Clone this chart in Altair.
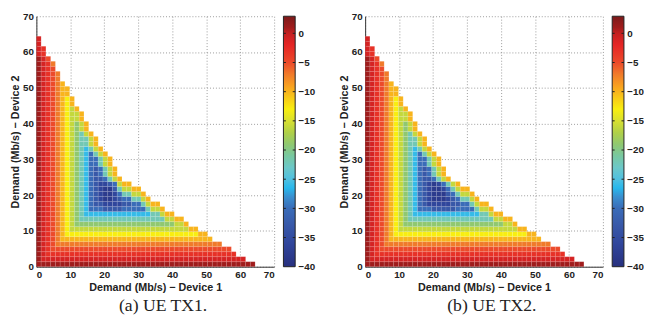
import altair as alt
import pandas as pd

# ---------------- data ----------------
STEP = 1.4  # Mb/s per heat-map cell (46 cells cover 0..64.4)

# level code -> value (dB)
LEVEL_CODES = "0123456789abcde"
LEVEL_VALUES = [1.0, -1, -3, -5, -7, -10, -13, -16, -19, -22, -26, -30, -33, -36, -38]

# one string per row of cells, bottom row (Device 2 = 0) first, left to right
ROWS_A = [
    "0000000000000000000000000000000000000000000000",
    "01111111111111111111111111111111111111111111",
    "012222222222222222222222222222222222222222",
    "01233333333333333333333333333333333333333",
    "012344444444444444444444444444444444444",
    "0123455555555555555555555555555555555",
    "012345666666666666666666666666666655",
    "0123456777777777777777777777777755",
    "01234567888888888888888888888775",
    "0123456789999999999999999997755",
    "0123456789aaaaaaaaaaaaaa99755",
    "0123456789abbbccccbbbbb9775",
    "0123456789abccddddccbb9755",
    "0123456789abcdeedcbb9975",
    "0123456789abcdeedb99775",
    "0123456789abcdeec97755",
    "0123456789abcddcb755",
    "0123456789abccb975",
    "0123456789abcb975",
    "0123456789abcb975",
    "0123456789abb975",
    "0123456789abb975",
    "0123456789ab975",
    "0123456789a975",
    "0123456789975",
    "0123456789975",
    "012345678975",
    "01234567875",
    "01234567875",
    "0123456775",
    "0123456775",
    "012345675",
    "01234565",
    "01234565",
    "0123455",
    "0123455",
    "012345",
    "01234",
    "01234",
    "0123",
    "0124",
    "013",
    "12",
    "12",
    "1",
    "1",
]

ROWS_B = [
    "0000000000000000000000000000000000000000000000",
    "01111111111111111111111111111111111111111111",
    "012222222222222222222222222222222222222222",
    "01233333333333333333333333333333333333333",
    "012344444444444444444444444444444444444",
    "0123455555555555555555555555555555555",
    "012345666666666666666666666666666655",
    "0123456777777777777777777777777755",
    "01234567888888888888888888888775",
    "0123456789999999999999999997755",
    "0123456789aaaaaaaaaaaaaa99755",
    "0123456789abbbcccccbbbb9775",
    "0123456789abcdddddccbb9755",
    "0123456789abcdeeedcb9975",
    "0123456789abcdeeecb9775",
    "0123456789abcdeedb9755",
    "0123456789abcdedb975",
    "0123456789abccb975",
    "0123456789abcb975",
    "0123456789abcb975",
    "0123456789abb975",
    "0123456789abb975",
    "0123456789ab975",
    "0123456789a975",
    "0123456789975",
    "0123456789975",
    "012345678975",
    "01234567875",
    "01234567875",
    "0123456775",
    "0123456775",
    "012345675",
    "01234565",
    "01234565",
    "0123455",
    "0123455",
    "012345",
    "01234",
    "01234",
    "0123",
    "0124",
    "013",
    "12",
    "12",
    "1",
    "1",
]

AXIS_TICKS = [0, 10, 20, 30, 40, 50, 60, 70]
AXIS_DOMAIN = [0, 70]
CB_TICKS = [-40, -35, -30, -25, -20, -15, -10, -5, 0]
CB_RANGE = [-40, 2.93]

CMAP_VALUES = [-40, -36, -33, -30, -28, -26.5, -25, -23, -21, -19, -17, -15,
               -13, -11, -9, -7, -5, -2, 0, 1, 2.93]
CMAP_COLORS = ["#28307e", "#30469c", "#3858a8", "#3a6cb8", "#3a90d0", "#28b8ec",
               "#50c0e0", "#6cc8c8", "#78c8a0", "#90c870", "#b0d048", "#d8e030",
               "#f8ee10", "#f8c818", "#f8a020", "#f07a2a", "#ec4a2a", "#e52525",
               "#c42020", "#a01c1c", "#7a1a1a"]

X_TITLE = "Demand (Mb/s) \u2212 Device 1"
Y_TITLE = "Demand (Mb/s) \u2212 Device 2"
CAPTIONS = ["(a) UE TX1.", "(b) UE TX2."]

# ---------------- layout ----------------
W, H = 243, 256
CB_GAP, CB_W = 9.5, 12


def cells(rows):
    recs = []
    for j, row in enumerate(rows):
        for i, ch in enumerate(row):
            recs.append({
                "x": i * STEP, "x2": (i + 1) * STEP,
                "y": j * STEP, "y2": (j + 1) * STEP,
                "v": LEVEL_VALUES[LEVEL_CODES.index(ch)],
            })
    return pd.DataFrame(recs)


span = CB_RANGE[1] - CB_RANGE[0]
gradient = alt.Gradient(
    gradient="linear",
    stops=[alt.GradientStop(offset=(v - CB_RANGE[0]) / span, color=c)
           for v, c in zip(CMAP_VALUES, CMAP_COLORS)],
    x1=0, x2=0, y1=1, y2=0,
)


def panel(rows, caption):
    grid_axis = dict(values=AXIS_TICKS, grid=True, gridDash=[1, 2], gridColor="#9a9a9a",
                     gridWidth=1, ticks=False, domainColor="#333333", domainWidth=1,
                     labelPadding=3, titlePadding=2)
    heat = alt.Chart(cells(rows)).mark_rect(
        stroke="white", strokeWidth=0.5, strokeOpacity=0.2
    ).encode(
        x=alt.X("x:Q", scale=alt.Scale(domain=AXIS_DOMAIN, nice=False, zero=False),
                axis=alt.Axis(title=X_TITLE, **grid_axis)),
        x2="x2:Q",
        y=alt.Y("y:Q", scale=alt.Scale(domain=AXIS_DOMAIN, nice=False, zero=False),
                axis=alt.Axis(title=Y_TITLE, **grid_axis)),
        y2="y2:Q",
        color=alt.Color("v:Q", scale=alt.Scale(domain=CMAP_VALUES, range=CMAP_COLORS,
                                               interpolate="rgb"), legend=None),
    )

    y_cb = alt.Y("lo:Q", scale=alt.Scale(domain=CB_RANGE, nice=False, zero=False),
                 axis=alt.Axis(orient="right", values=CB_TICKS, title=None, grid=False,
                               domain=False, ticks=False, labelPadding=3,
                               offset=CB_GAP + CB_W))
    cb_df = pd.DataFrame({"lo": [CB_RANGE[0]], "hi": [CB_RANGE[1]]})
    cbar = alt.Chart(cb_df).mark_rect(color=gradient, stroke="#222222", strokeWidth=1).encode(
        x=alt.value(W + CB_GAP), x2=alt.value(W + CB_GAP + CB_W),
        y=y_cb, y2="hi:Q",
    )
    tick_df = pd.DataFrame({"lo": CB_TICKS[1:]})
    tick_l = alt.Chart(tick_df).mark_rule(color="#222222", strokeWidth=1).encode(
        x=alt.value(W + CB_GAP), x2=alt.value(W + CB_GAP + 2.5), y=y_cb)
    tick_r = alt.Chart(tick_df).mark_rule(color="#222222", strokeWidth=1).encode(
        x=alt.value(W + CB_GAP + CB_W - 2.5), x2=alt.value(W + CB_GAP + CB_W), y=y_cb)

    return alt.layer(heat, alt.layer(cbar, tick_l, tick_r)).resolve_scale(
        y="independent"
    ).properties(
        width=W, height=H,
        title=alt.TitleParams(text=caption, orient="bottom", anchor="middle",
                              font="Liberation Serif", fontSize=18, fontWeight="normal",
                              color="#222222", offset=5, dx=8),
    )


chart = alt.hconcat(
    panel(ROWS_A, CAPTIONS[0]), panel(ROWS_B, CAPTIONS[1]), spacing=23
).properties(
    padding={"left": 1, "top": 0, "right": 0, "bottom": 0}
).configure_view(stroke=None).configure_axis(
    labelFont="Liberation Sans", labelFontWeight="bold", labelFontSize=10, labelColor="#222222",
    titleFont="Liberation Sans", titleFontWeight="bold", titleFontSize=11, titleColor="#222222",
)

chart.save("out.html", embed_options={"renderer": "svg", "actions": False})
